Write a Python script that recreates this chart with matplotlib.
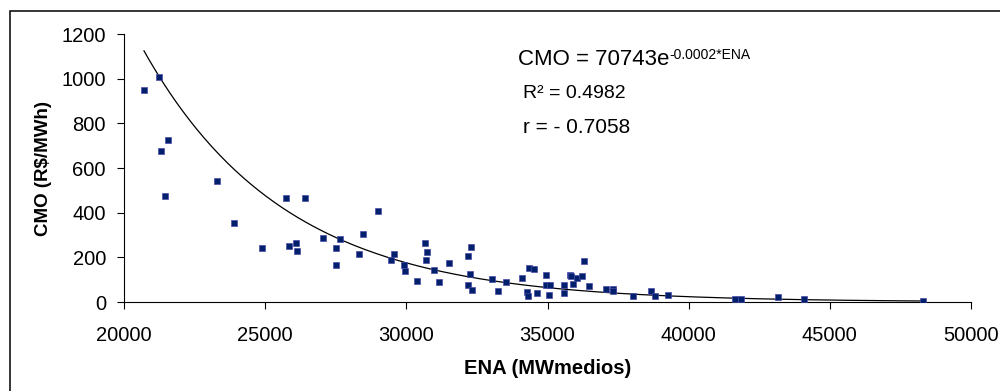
import numpy as np
import matplotlib.pyplot as plt
from matplotlib.patches import Rectangle

plt.rcParams['font.family'] = ['Liberation Sans', 'DejaVu Sans']

# ENA (MWmedios) vs CMO (R$/MWh)
ena = [20708, 21250, 21570, 21300, 21452, 23283, 23886, 24888, 25739, 26423,
       25834, 26093, 26117, 27049, 27510, 27510, 27652, 28478, 28987, 28325,
       29458, 29553, 29907, 29964, 30368, 30673, 30744, 30698, 30985, 31158,
       31500, 32173, 32279, 32244, 32173, 32326, 33023, 33246, 33519, 34109,
       34334, 34522, 34263, 34298, 34628, 34935, 34947, 35077, 35042, 35573,
       35596, 35786, 35832, 35903, 36034, 36233, 36304, 36460, 37062, 37310,
       37310, 38018, 38655, 38820, 39259, 41644, 41845, 43156, 44088, 48303]
cmo = [949, 1006, 724, 676, 475, 540, 355, 243, 464, 464,
       252, 263, 230, 287, 243, 167, 281, 304, 408, 216,
       187, 216, 167, 139, 93, 263, 225, 187, 143, 89,
       176, 206, 248, 125, 77, 55, 101, 50, 89, 108,
       154, 149, 46, 27, 40, 121, 75, 77, 31, 77,
       40, 121, 116, 82, 106, 116, 182, 73, 60, 60,
       51, 27, 50, 27, 31, 13, 13, 22, 13, 3]

# exponential trend shown in the equation
a = 70743
b = -0.0002
r2 = 0.4982
r = -0.7058

fig = plt.figure(figsize=(10, 3.91), dpi=100)
ax = fig.add_axes([0.124, 0.2276, 0.847, 0.6854])

xx = np.linspace(min(ena), max(ena), 300)
ax.plot(xx, a * np.exp(b * xx), color='black', lw=0.9, zorder=2)
ax.plot(ena, cmo, 's', ms=4.6, mfc='#00206B', mec='#4A4AA8', mew=0.5, ls='none', zorder=3)

ax.set_xlim(20000, 50000)
ax.set_ylim(0, 1200)
ax.set_xticks(np.arange(20000, 50001, 5000))
ax.set_yticks(np.arange(0, 1201, 200))
ax.spines['top'].set_visible(False)
ax.spines['right'].set_visible(False)
for s in ['left', 'bottom']:
    ax.spines[s].set_linewidth(0.8)
ax.tick_params(direction='out', length=5, width=0.8, labelsize=14.5)
ax.tick_params(axis='x', pad=12)
ax.tick_params(axis='y', pad=8)

ax.set_xlabel('ENA (MWmedios)', fontsize=14.5, fontweight='bold', labelpad=10)
ax.set_ylabel('CMO (R\\$/MWh)', fontsize=13.5, fontweight='bold', labelpad=7)

eq = ax.text(0.465, 0.884, 'CMO = %de' % a, transform=ax.transAxes, fontsize=16, va='baseline')
ax.annotate('%.4f*ENA' % b, xy=(1, 1), xycoords=eq, xytext=(0.3, 1), textcoords='offset points',
            fontsize=10, va='top', ha='left')
ax.text(0.471, 0.761, 'R² = %.4f' % r2, transform=ax.transAxes, fontsize=14, va='baseline')
ax.text(0.471, 0.631, 'r = - %.4f' % abs(r), transform=ax.transAxes, fontsize=15, va='baseline')

# chart border
fig.patches.append(Rectangle((0.010, -0.1), 1.2, 0.972 + 0.1, transform=fig.transFigure,
                             fill=False, lw=1.1, ec='black'))

fig.savefig('out.png', dpi=100)
